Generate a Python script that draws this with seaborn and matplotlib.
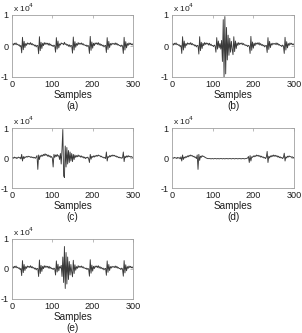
import numpy as np
import pandas as pd
import matplotlib
matplotlib.use("Agg")
import matplotlib.pyplot as plt
import seaborn as sns

# sample positions (every 2 samples, 0..300)
samples = list(range(0, 301, 2))

# signal values in units of 1e4
sig_a = [0.05, 0.08, 0.03, 0.09, 0.05, 0.10, 0.04, 0.06, 0.02, 0.04, -0.02, 0.02,
         -0.22, 0.28, -0.12, 0.15, -0.05, 0.08, 0.02, 0.10, 0.06, 0.09, 0.05, 0.11, 0.04, 0.08, 0.03, 0.05, 0.00, 0.03, -0.03, 0.02, 0.01,
         -0.25, 0.30, -0.15, 0.12, -0.08, 0.09, 0.01, 0.11, 0.05, 0.10, 0.06, 0.09, 0.03, 0.09, 0.02, 0.06, 0.01, 0.02, -0.02, 0.03, 0.00,
         -0.20, 0.27, -0.10, 0.16, -0.06, 0.07, 0.03, 0.10, 0.07, 0.08, 0.04, 0.12, 0.05, 0.07, 0.02, 0.05, -0.01, 0.04, -0.03, 0.02, 0.01,
         -0.23, 0.29, -0.13, 0.14, -0.04, 0.08, 0.02, 0.11, 0.05, 0.09, 0.06, 0.10, 0.04, 0.08, 0.03, 0.04, 0.01, 0.03, -0.02, 0.02, 0.00,
         -0.24, 0.31, -0.14, 0.13, -0.07, 0.09, 0.01, 0.10, 0.06, 0.10, 0.05, 0.11, 0.03, 0.08, 0.02, 0.05, 0.00, 0.03, -0.03, 0.01, 0.02,
         -0.21, 0.27, -0.11, 0.15, -0.05, 0.08, 0.03, 0.09, 0.06, 0.08, 0.05, 0.10, 0.04, 0.09, 0.03, 0.05, 0.01, 0.02, -0.02, 0.03, 0.00,
         -0.24, 0.28, -0.13, 0.14, -0.06, 0.08, 0.02, 0.10, 0.05, 0.09, 0.04, 0.07, 0.03]

sig_b = [0.05, 0.08, 0.03, 0.09, 0.05, 0.10, 0.04, 0.06, 0.02, 0.04, -0.02, 0.02,
         -0.24, 0.30, -0.13, 0.16, -0.06, 0.08, 0.02, 0.10, 0.06, 0.09, 0.05, 0.11, 0.04, 0.08, 0.03, 0.05, 0.00, 0.03, -0.03, 0.02, 0.01,
         -0.26, 0.30, -0.15, 0.12, -0.08, 0.09, 0.01, 0.11, 0.05, 0.10, 0.06, 0.09, 0.03, 0.09, 0.02, 0.06, 0.01, 0.02, -0.02, 0.03, 0.00,
         -0.20, 0.27, -0.10, 0.16, -0.06, 0.08, -0.10, 0.18, -0.50, 0.85, -1.00, 0.95, -0.90, 0.60, -0.45, 0.35, -0.30, 0.25, -0.20, 0.15, -0.10,
         -0.28, 0.30, -0.18, 0.16, -0.08, 0.10, 0.02, 0.11, 0.05, 0.09, 0.06, 0.10, 0.04, 0.08, 0.03, 0.04, 0.01, 0.03, -0.02, 0.02, 0.00,
         -0.24, 0.31, -0.14, 0.13, -0.07, 0.09, 0.01, 0.10, 0.06, 0.10, 0.05, 0.11, 0.03, 0.08, 0.02, 0.05, 0.00, 0.03, -0.03, 0.01, 0.02,
         -0.21, 0.27, -0.11, 0.15, -0.05, 0.08, 0.03, 0.09, 0.06, 0.08, 0.05, 0.10, 0.04, 0.09, 0.03, 0.05, 0.01, 0.02, -0.02, 0.03, 0.00,
         -0.24, 0.28, -0.13, 0.14, -0.06, 0.08, 0.02, 0.10, 0.05, 0.09, 0.04, 0.07, 0.03]

sig_c = [0.00, 0.02, -0.01, 0.03, 0.00, 0.02, -0.02, 0.01, 0.03, 0.00, 0.02, -0.03,
         0.12, -0.10, 0.05, -0.02, 0.04, 0.02, 0.05, 0.03, 0.06, 0.04, 0.05, 0.02, 0.04, 0.01, 0.03, 0.00, 0.02, -0.01, 0.03, 0.08, -0.38,
         0.10, -0.05, 0.08, 0.05, 0.10, 0.06, 0.12, 0.08, 0.14, 0.09, 0.12, 0.06, 0.10, 0.04, 0.08, 0.02, 0.05, 0.00, -0.30, 0.12, 0.02,
         0.10, 0.05, 0.12, 0.06, 0.08, -0.05, 0.15, -0.20, 0.30, 0.95, -0.60, -0.65, 0.40, -0.30, 0.35, -0.20, 0.25, -0.15, 0.20, -0.10, 0.15,
         -0.12, 0.12, -0.05, 0.10, 0.02, 0.08, 0.04, 0.10, 0.05, 0.08, 0.03, 0.07, 0.02, 0.05, 0.00, 0.03, -0.02, 0.02, 0.00, 0.03, -0.02,
         -0.15, 0.12, -0.04, 0.06, 0.02, 0.07, 0.03, 0.08, 0.05, 0.09, 0.06, 0.10, 0.07, 0.08, 0.04, 0.06, 0.02, 0.03, 0.00, 0.02, -0.02,
         0.20, -0.10, 0.05, 0.02, 0.08, 0.04, 0.09, 0.06, 0.10, 0.07, 0.09, 0.05, 0.07, 0.03, 0.05, 0.01, 0.03, 0.00, 0.02, -0.01, 0.01,
         0.20, -0.12, 0.06, 0.01, 0.07, 0.03, 0.08, 0.04, 0.06, 0.03, 0.05, 0.02, 0.03]

sig_d = [0.00, 0.01, -0.01, 0.02, 0.00, 0.01, -0.02, 0.02, 0.00, 0.01, -0.03, 0.04,
         -0.10, 0.10, -0.05, 0.03, 0.00, 0.05, 0.02, 0.07, 0.04, 0.09, 0.06, 0.10, 0.07, 0.08, 0.04, 0.06, 0.02, 0.03, -0.02, 0.10, -0.38,
         0.12, -0.08, 0.06, 0.02, 0.08, 0.05, 0.06, 0.03, 0.02, 0.00, -0.01, -0.02, -0.02, -0.02, -0.02, -0.03, -0.02, -0.02, -0.03, -0.02, -0.02,
         -0.02, -0.03, -0.02, -0.02, -0.03, -0.02, -0.02, -0.02, -0.03, -0.02, -0.02, -0.03, -0.02, -0.02, -0.02, -0.03, -0.02, -0.02, -0.02, -0.03, -0.02,
         -0.02, -0.02, -0.03, -0.02, -0.02, -0.02, -0.03, -0.02, -0.02, -0.02, -0.03, -0.02, -0.02, -0.02, -0.03, -0.02, -0.02, -0.01, 0.00, 0.05, -0.15,
         0.08, -0.10, 0.04, 0.02, 0.07, 0.04, 0.08, 0.05, 0.10, 0.07, 0.09, 0.05, 0.08, 0.03, 0.06, 0.02, 0.04, 0.00, 0.02, -0.02, 0.03,
         0.22, -0.15, 0.06, 0.00, 0.07, 0.04, 0.09, 0.05, 0.10, 0.06, 0.09, 0.05, 0.08, 0.03, 0.06, 0.01, 0.04, 0.00, 0.02, -0.02, 0.02,
         0.16, -0.10, 0.04, 0.00, 0.06, 0.03, 0.07, 0.04, 0.05, 0.02, 0.04, 0.01, 0.02]

sig_e = [0.05, 0.08, 0.03, 0.09, 0.05, 0.10, 0.04, 0.06, 0.02, 0.04, -0.02, 0.02,
         -0.22, 0.28, -0.12, 0.15, -0.05, 0.08, 0.02, 0.10, 0.06, 0.09, 0.05, 0.11, 0.04, 0.08, 0.03, 0.05, 0.00, 0.03, -0.03, 0.02, 0.01,
         -0.25, 0.30, -0.15, 0.12, -0.08, 0.09, 0.01, 0.11, 0.05, 0.10, 0.06, 0.09, 0.03, 0.09, 0.02, 0.06, 0.01, 0.02, -0.02, 0.03, 0.00,
         -0.20, 0.27, -0.10, 0.16, -0.06, 0.08, 0.03, 0.12, -0.25, 0.40, -0.45, 0.75, -0.65, 0.55, -0.50, 0.40, -0.35, 0.25, -0.20, 0.15, -0.10,
         -0.26, 0.29, -0.15, 0.14, -0.04, 0.08, 0.02, 0.11, 0.05, 0.09, 0.06, 0.10, 0.04, 0.08, 0.03, 0.04, 0.01, 0.03, -0.02, 0.02, 0.00,
         -0.24, 0.31, -0.14, 0.13, -0.07, 0.09, 0.01, 0.10, 0.06, 0.10, 0.05, 0.11, 0.03, 0.08, 0.02, 0.05, 0.00, 0.03, -0.03, 0.01, 0.02,
         -0.21, 0.27, -0.11, 0.15, -0.05, 0.08, 0.03, 0.09, 0.06, 0.08, 0.05, 0.10, 0.04, 0.09, 0.03, 0.05, 0.01, 0.02, -0.02, 0.03, 0.00,
         -0.24, 0.28, -0.13, 0.14, -0.06, 0.08, 0.02, 0.10, 0.05, 0.09, 0.04, 0.07, 0.03]

panel_labels = ["(a)", "(b)", "(c)", "(d)", "(e)"]
x_ticks = [0, 100, 200, 300]
y_ticks = [-1, 0, 1]

sns.set_style("white")
plt.rcParams['font.family'] = ['Liberation Sans', 'DejaVu Sans']

W, H = 302, 333
fig = plt.figure(figsize=(W / 100, H / 100), dpi=100)

# pixel boxes: left, top, right, bottom
boxes = [(12, 15, 133, 77), (172, 15, 294, 77),
         (12, 128, 133, 188), (172, 128, 294, 188),
         (12, 239, 133, 299)]
signals = [sig_a, sig_b, sig_c, sig_d, sig_e]
frame_col = "#a0a0a0"
text_col = "#1e1e1e"

for sig, lab, (l, t, r, b) in zip(signals, panel_labels, boxes):
    ax = fig.add_axes([l / W, 1 - b / H, (r - l) / W, (b - t) / H])
    df = pd.DataFrame({"Samples": samples, "val": sig})
    sns.lineplot(data=df, x="Samples", y="val", ax=ax, color="#3a3a3a",
                 linewidth=0.65, estimator=None)
    ax.set_xlim(0, 300)
    ax.set_ylim(-1, 1)
    ax.set_xticks(x_ticks)
    ax.set_yticks(y_ticks)
    ax.set_yticklabels(["-1", "0", "1"])
    ax.tick_params(direction="in", length=2, width=0.5, colors=frame_col,
                   labelcolor=text_col, labelsize=6.6, pad=2.5,
                   top=True, right=True)
    for s in ax.spines.values():
        s.set_color(frame_col)
        s.set_linewidth(0.6)
    ax.set_ylabel("")
    ax.set_xlabel("Samples\n" + lab, fontsize=7.2, color=text_col,
                  labelpad=0.5, linespacing=1.1)
    ax.text(0.01, 1.01, r"x 10$^4$", transform=ax.transAxes, ha="left",
            va="bottom", fontsize=6.0, color=text_col)

fig.savefig("out.png", dpi=100)
